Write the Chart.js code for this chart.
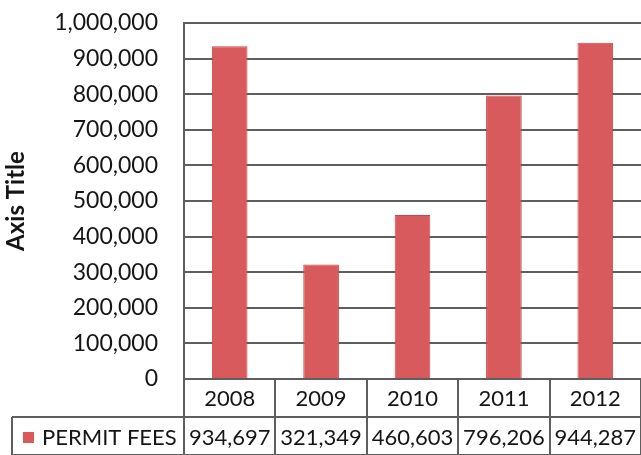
<!DOCTYPE html>
<html lang="en">
<head>
    <meta charset="UTF-8">
    <title>Permit Fees</title>
    <script src="https://cdn.jsdelivr.net/npm/chart.js"></script>
    <style>
        html, body {
            margin: 0;
            padding: 0;
            background: #fff;
        }
        #wrap {
            width: 641px;
            height: 455px;
        }
    </style>
</head>
<body>
    <div id="wrap"><canvas id="feesChart" width="641" height="455"></canvas></div>

    <script>
        // yearly permit fees
        const years = ['2008', '2009', '2010', '2011', '2012'];
        const permitFees = [934697, 321349, 460603, 796206, 944287];
        const seriesName = 'PERMIT FEES';
        const yMax = 1000000;
        const yStep = 100000;

        const barColor = '#d95a5c';
        const barEdge = '#c8454a';
        const lineColor = '#5e5e5e';
        const textColor = '#151515';
        const fontFamily = 'Lato, "Open Sans", sans-serif';

        const fmt = v => v.toLocaleString('en-US');

        // data table under the plot (year row + value row)
        const dataTable = {
            id: 'dataTable',
            afterDraw(chart) {
                const c = chart.ctx;
                const x = chart.scales.x;
                const area = chart.chartArea;
                const n = years.length;
                const colW = (x.right - x.left) / n;
                const rowH = 38;
                const top = area.bottom;
                const mid = top + rowH;
                const bot = top + rowH * 2;
                const tableLeft = 12;

                c.save();
                c.strokeStyle = lineColor;
                c.lineWidth = 2;
                c.beginPath();
                // horizontal rules
                c.moveTo(x.left, top);
                c.lineTo(x.right, top);
                c.moveTo(tableLeft, mid);
                c.lineTo(x.right, mid);
                c.moveTo(tableLeft, bot);
                c.lineTo(x.right, bot);
                // column dividers
                for (let i = 0; i <= n; i++) {
                    const px = Math.round(x.getPixelForValue(i) - colW / 2);
                    c.moveTo(px, top);
                    c.lineTo(px, bot);
                }
                c.moveTo(tableLeft, mid);
                c.lineTo(tableLeft, bot);
                c.stroke();

                c.fillStyle = textColor;
                c.font = '22px ' + fontFamily;
                c.textAlign = 'center';
                c.textBaseline = 'middle';
                years.forEach((yr, i) => {
                    const cx = x.getPixelForValue(i);
                    c.fillText(yr, cx, top + rowH / 2 + 1);
                    c.fillText(fmt(permitFees[i]), cx, mid + rowH / 2 + 2);
                });

                // series key + name
                c.fillStyle = barColor;
                c.fillRect(23, mid + 15, 11, 11);
                c.fillStyle = textColor;
                c.textAlign = 'left';
                c.fillText(seriesName, 42, mid + rowH / 2 + 2);
                c.restore();
            }
        };

        const ctx = document.getElementById('feesChart').getContext('2d');
        new Chart(ctx, {
            type: 'bar',
            data: {
                labels: years,
                datasets: [{
                    label: seriesName,
                    data: permitFees,
                    backgroundColor: barColor,
                    borderColor: barEdge,
                    borderWidth: 1,
                    barPercentage: 0.39,
                    categoryPercentage: 1
                }]
            },
            options: {
                responsive: false,
                animation: false,
                layout: {
                    padding: { top: 23, right: 0, bottom: 76, left: 0 }
                },
                plugins: {
                    legend: { display: false },
                    tooltip: { enabled: false }
                },
                scales: {
                    x: {
                        display: false
                    },
                    y: {
                        min: 0,
                        max: yMax,
                        afterFit: s => {
                            // fixed axis width; tick padding shouldn't push the plot down
                            s.width = 184;
                            s.paddingTop = 13;
                            s.paddingBottom = 13;
                        },
                        ticks: {
                            stepSize: yStep,
                            padding: 26,
                            color: textColor,
                            font: { family: fontFamily, size: 23 },
                            callback: v => fmt(v)
                        },
                        grid: {
                            color: lineColor,
                            lineWidth: 2,
                            drawTicks: false
                        },
                        border: {
                            display: true,
                            color: lineColor,
                            width: 2
                        },
                        title: {
                            display: true,
                            text: 'Axis Title',
                            color: textColor,
                            font: { family: fontFamily, size: 24, weight: 'bold' },
                            padding: { top: 2, bottom: 0 }
                        }
                    }
                }
            },
            plugins: [dataTable]
        });
    </script>
</body>
</html>
